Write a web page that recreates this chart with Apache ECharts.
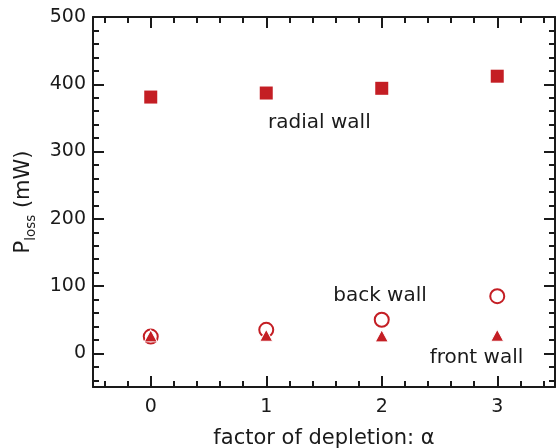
<!DOCTYPE html>
<html>
<head>
<meta charset="utf-8">
<script src="https://cdn.jsdelivr.net/npm/echarts@6/dist/echarts.min.js"></script>
<style>
  html, body { margin: 0; padding: 0; background: #fff; }
  #chart { width: 557px; height: 448px; }
</style>
</head>
<body>
<div id="chart"></div>
<script>
// factor of depletion (x) and the three loss series
const alphaValues = [0, 1, 2, 3];
const radialWall = [381, 387, 394, 412];
const backWall = [25, 35, 50, 85];
const frontWall = [26, 27, 26, 27];

// text annotations placed in data coordinates
const noteNames = ["radial wall", "back wall", "front wall"];
const noteX = [1.46, 1.985, 2.82];
const noteY = [342, 85, -7];

// axis ticks
const xMajorTicks = [0, 1, 2, 3];
const xMinorTicks = [-0.4, -0.2, 0.2, 0.4, 0.6, 0.8, 1.2, 1.4, 1.6, 1.8, 2.2, 2.4, 2.6, 2.8, 3.2, 3.4];
const yMajorTicks = [0, 100, 200, 300, 400, 500];
const yMinorTicks = [-40, -20, 20, 40, 60, 80, 120, 140, 160, 180, 220, 240, 260, 280,
  320, 340, 360, 380, 420, 440, 460, 480];

const INK = "#1a1a1a";
const RED = "#c41e24";
const FONT = "DejaVu Sans";

const chart = echarts.init(document.getElementById("chart"), null, { renderer: "canvas" });

function pairs(xs, ys) {
  return xs.map((x, i) => [x, ys[i]]);
}

function tickAxis(base, position, values, length, withLine, labelMargin) {
  return Object.assign({}, base, {
    position,
    axisLine: { show: withLine, onZero: false, lineStyle: { color: INK, width: 2 } },
    axisTick: {
      show: true,
      inside: true,
      length,
      customValues: values,
      lineStyle: { color: INK, width: 2 },
    },
    axisLabel: labelMargin
      ? { show: true, customValues: values, color: INK, fontFamily: FONT, fontSize: 19, margin: labelMargin }
      : { show: false },
    splitLine: { show: false },
  });
}

const xBase = { type: "value", min: -0.5, max: 3.5, gridIndex: 0 };
const yBase = { type: "value", min: -50, max: 500, gridIndex: 0 };

const xMain = tickAxis(xBase, "bottom", xMajorTicks, 11, true, 11);
xMain.name = "factor of depletion: \u03b1";
xMain.nameLocation = "middle";
xMain.nameGap = 41;
xMain.nameTextStyle = { color: INK, fontFamily: FONT, fontSize: 21 };

const yMain = tickAxis(yBase, "left", yMajorTicks, 11, true, 7);
yMain.name = "{a|P}{b|loss}{a| (mW)}";
yMain.nameLocation = "middle";
yMain.nameGap = 55;
yMain.nameTextStyle = {
  color: INK,
  fontFamily: FONT,
  fontSize: 21,
  rich: {
    a: { fontFamily: FONT, fontSize: 21, lineHeight: 21, color: INK, verticalAlign: "top" },
    b: { fontFamily: FONT, fontSize: 13.5, lineHeight: 13, color: INK, verticalAlign: "top", padding: [12, 0, 0, 0] },
  },
};

chart.setOption({
  animation: false,
  backgroundColor: "#fff",
  grid: { left: 93, right: 2, top: 17, bottom: 61, containLabel: false, outerBoundsMode: "none" },
  xAxis: [
    xMain,
    tickAxis(xBase, "bottom", xMinorTicks, 6, false, 0),
    tickAxis(xBase, "top", xMajorTicks, 11, true, 0),
    tickAxis(xBase, "top", xMinorTicks, 6, false, 0),
  ],
  yAxis: [
    yMain,
    tickAxis(yBase, "left", yMinorTicks, 6, false, 0),
    tickAxis(yBase, "right", yMajorTicks, 11, true, 0),
    tickAxis(yBase, "right", yMinorTicks, 6, false, 0),
  ],
  series: [
    {
      name: "radial wall",
      type: "scatter",
      symbol: "rect",
      symbolSize: 13,
      itemStyle: { color: RED, opacity: 1 },
      data: pairs(alphaValues, radialWall),
    },
    {
      name: "back wall",
      type: "scatter",
      symbol: "circle",
      symbolSize: 14,
      itemStyle: { color: "#fff", borderColor: RED, borderWidth: 2, opacity: 1 },
      data: pairs(alphaValues, backWall),
    },
    {
      name: "front wall",
      type: "scatter",
      symbol: "triangle",
      symbolSize: [13, 12],
      itemStyle: { color: RED, borderColor: "#fff", borderWidth: 1, opacity: 1 },
      data: pairs(alphaValues, frontWall),
    },
    {
      name: "notes",
      type: "scatter",
      symbolSize: 0,
      silent: true,
      itemStyle: { opacity: 1 },
      label: {
        show: true,
        position: "inside",
        formatter: (p) => p.name,
        color: INK,
        opacity: 1,
        fontFamily: FONT,
        fontSize: 20,
      },
      data: noteNames.map((name, i) => ({ name, value: [noteX[i], noteY[i]] })),
    },
  ],
});
</script>
</body>
</html>
